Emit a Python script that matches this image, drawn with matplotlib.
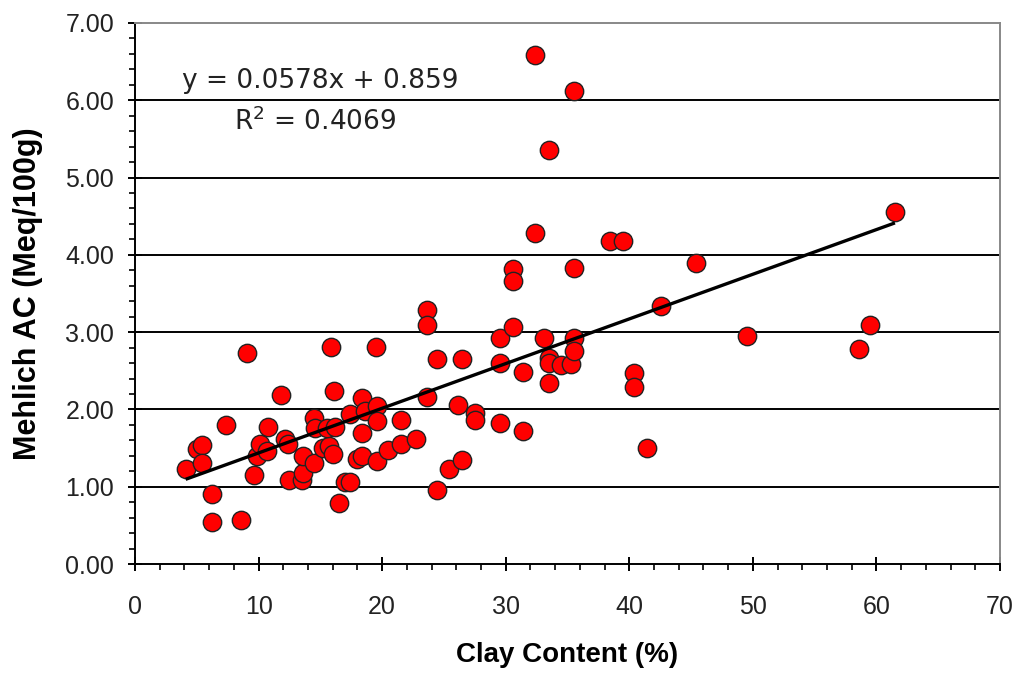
import matplotlib
matplotlib.use("Agg")
import matplotlib.pyplot as plt
import numpy as np
from matplotlib.ticker import MultipleLocator, FormatStrFormatter

# Data
clay = [4.1, 5.0, 5.4, 5.4, 6.2, 6.2, 7.4, 8.6, 9.1, 9.6, 9.9, 10.1, 10.7, 10.8, 11.8,
        12.1, 12.4, 12.5, 13.5, 13.6, 13.6, 14.5, 14.5, 14.6, 15.2, 15.7, 15.9, 16.1,
        16.0, 15.5, 16.2, 16.5, 17.0, 17.4, 17.4, 18.0, 18.4, 18.4, 18.4, 18.6, 19.5,
        19.6, 19.6, 19.6, 20.5, 21.5, 21.5, 22.7, 23.6, 23.6, 23.6, 24.4, 24.4, 25.4,
        26.1, 26.5, 26.5, 27.5, 27.5, 29.5, 29.5, 29.5, 30.6, 30.6, 30.6, 31.4, 31.4,
        32.4, 32.4, 33.5, 33.1, 33.5, 33.5, 33.5, 34.5, 35.3, 35.5, 35.5, 35.5, 35.5,
        38.4, 39.5, 40.4, 40.4, 41.4, 42.6, 45.4, 49.5, 58.6, 59.5, 61.5]
mehlich = [1.23, 1.49, 1.54, 1.31, 0.91, 0.54, 1.80, 0.57, 2.73, 1.15, 1.40, 1.55, 1.46,
           1.77, 2.19, 1.62, 1.55, 1.09, 1.09, 1.18, 1.40, 1.31, 1.89, 1.76, 1.50, 1.53,
           2.81, 2.24, 1.42, 1.76, 1.77, 0.79, 1.06, 1.06, 1.94, 1.36, 1.40, 2.15, 1.69,
           1.98, 2.81, 2.04, 1.85, 1.33, 1.47, 1.86, 1.55, 1.62, 3.29, 3.09, 2.16, 2.65,
           0.96, 1.23, 2.06, 2.65, 1.35, 1.95, 1.86, 2.92, 2.60, 1.83, 3.82, 3.66, 3.07,
           2.48, 1.72, 6.58, 4.28, 5.36, 2.92, 2.67, 2.60, 2.34, 2.57, 2.59, 6.12, 3.83,
           2.92, 2.76, 4.18, 4.18, 2.47, 2.29, 1.50, 3.34, 3.90, 2.95, 2.78, 3.09, 4.55]
slope = 0.0578
intercept = 0.859
r_squared = 0.4069

plt.rcParams['font.family'] = ['Liberation Sans', 'DejaVu Sans']

fig = plt.figure(figsize=(10.21, 6.75), dpi=100)
ax = fig.add_axes([135/1021, 1 - 564/675, 865/1021, (564-23)/675])

ax.scatter(clay, mehlich, s=175, facecolor='#ff0000', edgecolor='#222222',
           linewidth=1.0, zorder=3)

xl = np.array([min(clay), max(clay)])
ax.plot(xl, slope * xl + intercept, color='black', linewidth=2.4, zorder=4,
        solid_capstyle='butt')

ax.set_xlim(0, 70)
ax.set_ylim(0, 7)
ax.xaxis.set_major_locator(MultipleLocator(10))
ax.xaxis.set_minor_locator(MultipleLocator(2))
ax.yaxis.set_major_locator(MultipleLocator(1))
ax.yaxis.set_minor_locator(MultipleLocator(0.2))
ax.yaxis.set_major_formatter(FormatStrFormatter('%.2f'))

for yv in range(1, 7):
    ax.axhline(yv, color='black', linewidth=1.4, zorder=1)

ax.spines['top'].set_color('#888888')
ax.spines['right'].set_color('#888888')
ax.spines['left'].set_color('black')
ax.spines['bottom'].set_color('black')
for sp in ax.spines.values():
    sp.set_linewidth(1.4)

ax.tick_params(axis='both', which='major', direction='inout', length=10, width=1.4,
               labelsize=18, labelcolor='#222222')
ax.tick_params(axis='both', which='minor', direction='out', length=4, width=1.2)
ax.tick_params(axis='x', which='major', pad=17)
ax.tick_params(axis='y', which='major', pad=10)

ax.set_xlabel('Clay Content (%)', fontsize=20, fontweight='bold', labelpad=17)
ax.set_ylabel('Mehlich AC (Meq/100g)', fontsize=22, fontweight='bold', labelpad=16)

ax.text(3.8, 6.25, f'y = {slope}x + {intercept}', fontsize=19, ha='left', va='center',
        color='#222222', family='DejaVu Sans')
ax.text(8.0, 5.72, f'R$^2$ = {r_squared}', fontsize=19, ha='left', va='center',
        color='#222222', family='DejaVu Sans')

fig.savefig('out.png', dpi=100)
